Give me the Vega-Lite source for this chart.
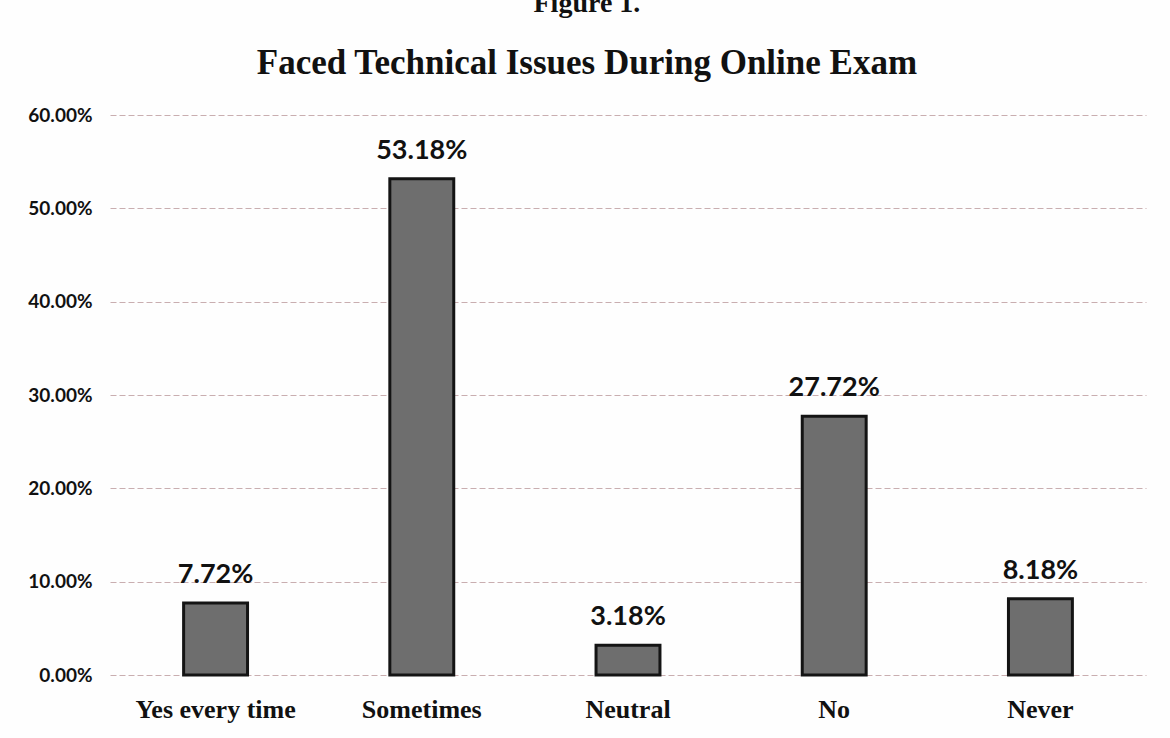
{
  "$schema": "https://vega.github.io/schema/vega-lite/v6.json",
  "autosize": {"type": "fit", "contains": "padding"},
  "width": 1170,
  "height": 738,
  "padding": {"left": 27, "right": 24, "top": -10, "bottom": 16},
  "background": "#fefefe",
  "title": {
    "text": "Figure 1.",
    "font": "Liberation Serif",
    "fontSize": 28,
    "fontWeight": "bold",
    "color": "#111111",
    "subtitle": "Faced Technical Issues During Online Exam",
    "subtitleFont": "Liberation Serif",
    "subtitleFontSize": 35,
    "subtitleFontWeight": "bold",
    "subtitleColor": "#111111",
    "subtitlePadding": 28,
    "offset": 25,
    "anchor": "middle",
    "frame": "bounds"
  },
  "data": {
    "values": [
      {"response": "Yes every time", "pct": 0.0772},
      {"response": "Sometimes", "pct": 0.5318},
      {"response": "Neutral", "pct": 0.0318},
      {"response": "No", "pct": 0.2772},
      {"response": "Never", "pct": 0.0818}
    ]
  },
  "encoding": {
    "x": {
      "field": "response",
      "type": "nominal",
      "sort": null,
      "title": null,
      "scale": {"paddingInner": 0.69, "paddingOuter": 0.357},
      "axis": {
        "labelAngle": 0,
        "labelFont": "Liberation Serif",
        "labelFontSize": 26,
        "labelFontWeight": "bold",
        "labelColor": "#111111",
        "labelPadding": 21,
        "domain": false,
        "ticks": false
      }
    },
    "y": {
      "field": "pct",
      "type": "quantitative",
      "title": null,
      "scale": {"domain": [0, 0.6]},
      "axis": {
        "format": ".2%",
        "values": [0, 0.1, 0.2, 0.3, 0.4, 0.5, 0.6],
        "labelFont": "Lato",
        "labelFontSize": 19,
        "labelFontWeight": "bold",
        "labelColor": "#111111",
        "labelPadding": 18,
        "domain": false,
        "ticks": false,
        "grid": true,
        "gridColor": "#c9aeb0",
        "gridDash": [6, 3],
        "gridWidth": 1.2
      }
    }
  },
  "layer": [
    {
      "mark": {"type": "bar", "color": "#6e6e6e", "stroke": "#141414", "strokeWidth": 3}
    },
    {
      "mark": {"type": "text", "baseline": "alphabetic", "dy": -20, "font": "Lato", "fontSize": 27, "fontWeight": "bold", "color": "#111111"},
      "encoding": {
        "text": {"field": "pct", "type": "quantitative", "format": ".2%"}
      }
    }
  ],
  "config": {"view": {"stroke": null}}
}
